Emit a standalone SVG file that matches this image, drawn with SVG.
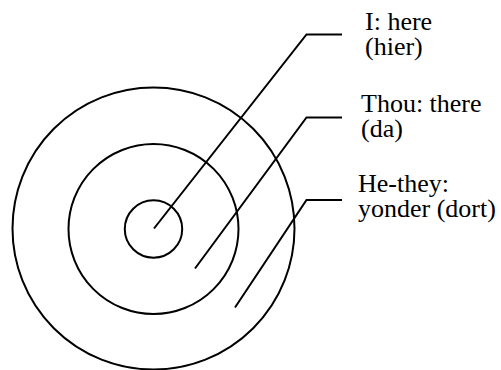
<svg xmlns="http://www.w3.org/2000/svg" width="501" height="370" viewBox="0 0 501 370">
<style>
.c{fill:none;stroke:#000;stroke-width:2}
.l{fill:none;stroke:#000;stroke-width:2}
text{font-size:26px;fill:#000}
</style>
<rect width="501" height="370" fill="#fff"/>
<g id="outer"><circle class="c" cx="153.5" cy="228.5" r="141"/></g>
<g id="middle"><circle class="c" cx="153.5" cy="229" r="85"/></g>
<g id="inner"><circle class="c" cx="153.5" cy="229" r="28.7"/></g>
<g id="connectors">
<polyline class="l" points="154,228.5 306.5,34.5 342,34.5"/>
<polyline class="l" points="195,268.5 306.5,117.5 342,117.5"/>
<polyline class="l" points="235,307.5 306.5,200 342,200"/>
</g>
<g id="label-i" font-family="Liberation Serif, DejaVu Serif, serif"><text x="365" y="30">I: here</text><text x="365" y="55">(hier)</text></g>
<g id="label-thou" font-family="Liberation Serif, DejaVu Serif, serif"><text x="361" y="112">Thou: there</text><text x="361" y="137">(da)</text></g>
<g id="label-hethey" font-family="Liberation Serif, DejaVu Serif, serif"><text x="358" y="192">He-they:</text><text x="358" y="217">yonder (dort)</text></g>
</svg>
